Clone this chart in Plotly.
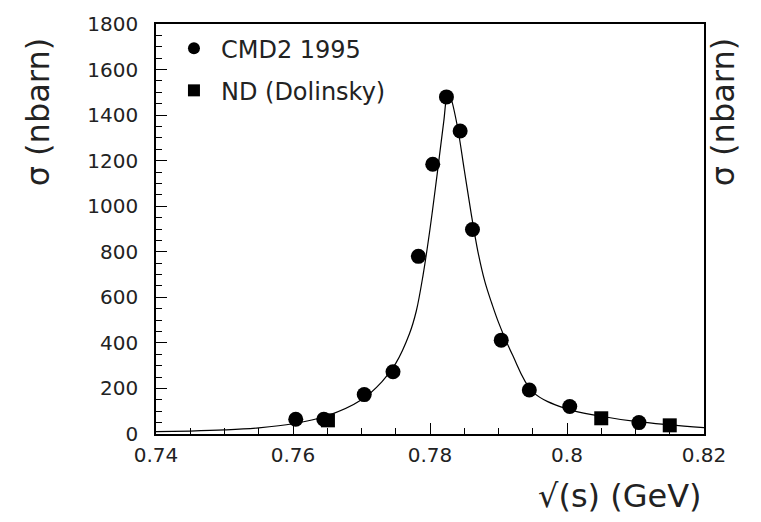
import plotly.graph_objects as go

# CMD2 1995 data (circles)
cmd2_x = [0.7604, 0.7645, 0.7704, 0.7746, 0.7783, 0.7804, 0.7824, 0.7844, 0.7862, 0.7904, 0.7945, 0.8004, 0.8105]
cmd2_y = [65, 65, 173, 273, 780, 1184, 1480, 1330, 898, 412, 193, 121, 50]

# ND (Dolinsky) data (squares)
nd_x = [0.7651, 0.8050, 0.8150]
nd_y = [60, 69, 38]

# Fit curve
fit_x = [0.740, 0.745, 0.750, 0.755, 0.760, 0.765, 0.770, 0.773, 0.775, 0.777, 0.778, 0.779,
         0.780, 0.781, 0.782, 0.7826, 0.783, 0.784, 0.785, 0.786, 0.787, 0.788, 0.789, 0.790,
         0.792, 0.795, 0.800, 0.805, 0.810, 0.815, 0.820]
fit_y = [10, 13, 18, 27, 45, 80, 150, 230, 310, 440, 540, 700,
         900, 1130, 1370, 1500, 1480, 1350, 1160, 970, 800, 670, 575, 490,
         350, 185, 110, 78, 55, 40, 28]

FONT = "DejaVu Sans"
TXT = "#222"

fig = go.Figure()
fig.add_trace(go.Scatter(x=fit_x, y=fit_y, mode="lines", line=dict(color="black", width=1.2),
                         line_shape="spline", showlegend=False, hoverinfo="skip"))
fig.add_trace(go.Scatter(x=cmd2_x, y=cmd2_y, mode="markers", name="CMD2 1995", legendgroup="a",
                         marker=dict(symbol="circle", size=15, color="black")))
fig.add_trace(go.Scatter(x=nd_x, y=nd_y, mode="markers", name="ND (Dolinsky)", legendgroup="b",
                         marker=dict(symbol="square", size=14, color="black")))

axis_common = dict(showline=True, linecolor="black", linewidth=1.5, mirror=True,
                   showgrid=False, zeroline=False, ticks="inside", ticklen=11,
                   tickcolor="black", tickwidth=1,
                   tickfont=dict(family=FONT, size=20, color=TXT))

fig.update_xaxes(range=[0.74, 0.82], dtick=0.02, tick0=0.74,
                 minor=dict(dtick=0.005, ticks="inside", ticklen=6, tickcolor="black"),
                 ticklabelstandoff=2, **axis_common)
fig.update_yaxes(range=[0, 1800], dtick=200, tick0=0,
                 minor=dict(dtick=50, ticks="inside", ticklen=6, tickcolor="black"),
                 ticklabelstandoff=12, **axis_common)

fig.update_layout(
    width=761, height=522,
    margin=dict(l=156, r=57, t=19, b=88),
    plot_bgcolor="white", paper_bgcolor="white",
    font=dict(family=FONT, color="black"),
    legend=dict(x=0.02, y=0.995, xanchor="left", yanchor="top",
                font=dict(family=FONT, size=24, color=TXT), itemwidth=44,
                bgcolor="rgba(0,0,0,0)", tracegroupgap=8, itemsizing="constant"),
    annotations=[
        dict(text="√(s) (GeV)", xref="paper", yref="paper", x=1.0, y=-0.152,
             xanchor="right", yanchor="middle", showarrow=False,
             font=dict(family=FONT, size=32, color=TXT)),
        dict(text="σ (nbarn)", xref="paper", yref="paper", x=-0.215, y=0.785,
             xanchor="center", yanchor="middle", textangle=-90, showarrow=False,
             font=dict(family=FONT, size=32, color=TXT)),
        dict(text="σ (nbarn)", xref="paper", yref="paper", x=1.035, y=0.785,
             xanchor="center", yanchor="middle", textangle=-90, showarrow=False,
             font=dict(family=FONT, size=32, color=TXT)),
    ],
)

fig.write_html("out.html")
